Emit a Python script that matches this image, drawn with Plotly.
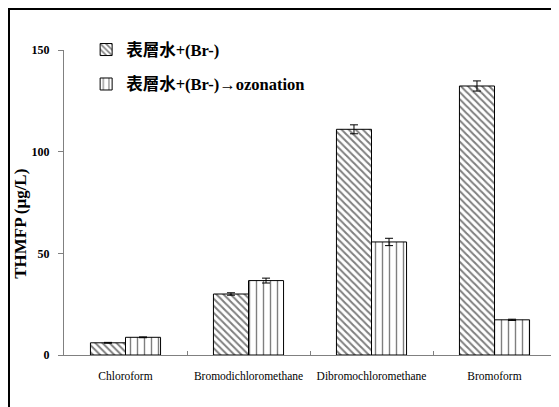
import plotly.graph_objects as go

categories = ["Chloroform", "Bromodichloromethane", "Dibromochloromethane", "Bromoform"]
raw_vals = [6.0, 30.0, 111.0, 132.3]
raw_err = [0.2, 0.6, 2.2, 2.5]
ozon_vals = [8.7, 36.6, 55.6, 17.3]
ozon_err = [0.2, 1.2, 1.8, 0.3]
yticks = [0, 50, 100, 150]

serif = "Liberation Serif, Times New Roman, serif"
legend_font = "Liberation Serif, Noto Sans CJK TC, serif"

fig = go.Figure()

fig.add_trace(go.Bar(
    x=categories, y=raw_vals,
    name="<b>表層水+(Br-)</b>", legendgroup="a",
    marker=dict(color="white", line=dict(color="black", width=1),
                pattern=dict(shape="\\", size=5, solidity=0.4, fgcolor="black", bgcolor="white")),
    error_y=dict(type="data", array=raw_err, color="black", thickness=1, width=4),
))
fig.add_trace(go.Bar(
    x=categories, y=ozon_vals,
    name="<b>表層水+(Br-)→ozonation</b>", legendgroup="b",
    marker=dict(color="white", line=dict(color="black", width=1),
                pattern=dict(shape="|", size=7, solidity=0.2, fgcolor="black", bgcolor="white")),
    error_y=dict(type="data", array=ozon_err, color="black", thickness=1, width=4),
))

# outer frame of the figure (page body adds an 8px offset)
fig.add_shape(type="rect", xref="paper", yref="paper",
              x0=-0.1118, x1=1.2, y0=-0.3, y1=1.1344,
              line=dict(color="black", width=2), fillcolor="rgba(0,0,0,0)", layer="below")

# y axis title, sits a bit below the plot centre in the original
fig.add_annotation(text="<b>THMFP (μg/L)</b>", xref="paper", yref="paper",
                   x=-0.0874, y=0.43, xanchor="center", yanchor="middle",
                   textangle=-90, showarrow=False,
                   font=dict(family=serif, size=17, color="black"))

fig.update_layout(
    width=551, height=399,
    margin=dict(l=56, r=3, t=42, b=52, autoexpand=False),
    paper_bgcolor="white", plot_bgcolor="white",
    barmode="group", bargap=0.43, bargroupgap=0,
    showlegend=True,
    legend=dict(x=0.045, y=1.058, xanchor="left", yanchor="top",
                font=dict(family=legend_font, size=16.5, color="black"),
                bgcolor="rgba(0,0,0,0)", tracegroupgap=10, traceorder="grouped",
                itemwidth=30),
    xaxis=dict(showline=True, linecolor="#808080", linewidth=1,
               ticks="inside", ticklen=4, tickcolor="#808080", tickson="boundaries",
               tickangle=0, automargin=False, ticklabelstandoff=10,
               tickfont=dict(family=serif, size=11.5, color="black"),
               showgrid=False),
    yaxis=dict(range=[0, 150], tickvals=yticks, showline=True, linecolor="#808080", linewidth=1,
               ticks="outside", ticklen=5, tickcolor="#808080",
               tickfont=dict(family=serif, size=12, color="black", weight="bold"),
               ticklabelstandoff=6, automargin=False,
               showgrid=False, zeroline=False),
)

fig.write_html("out.html")
